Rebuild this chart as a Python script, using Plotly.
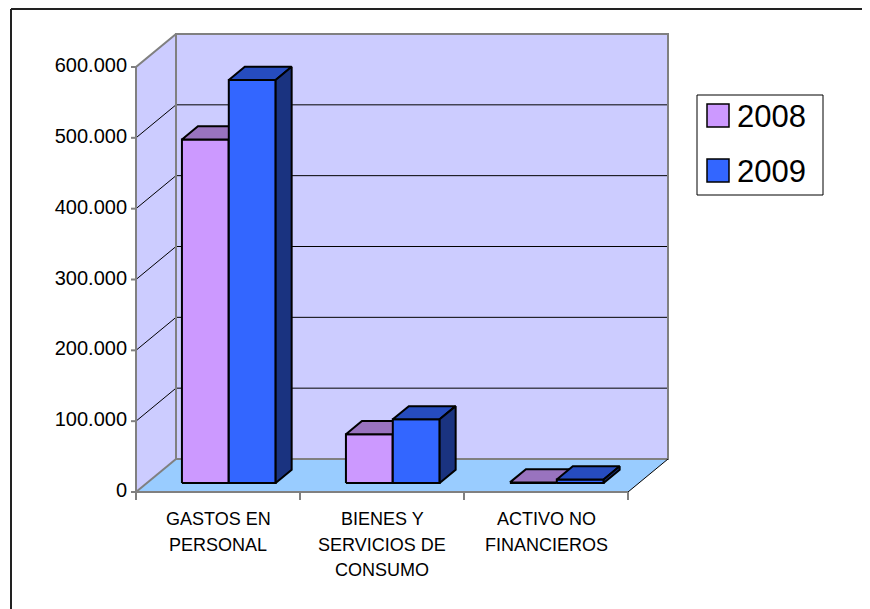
import plotly.graph_objects as go

# ---------------- data ----------------
categories = ["GASTOS EN<br>PERSONAL", "BIENES Y<br>SERVICIOS DE<br>CONSUMO", "ACTIVO NO<br>FINANCIEROS"]
series_names = ["2008", "2009"]
values_2008 = [485000, 69000, 1000]
values_2009 = [569000, 90000, 5000]
y_tick_values = [0, 100000, 200000, 300000, 400000, 500000, 600000]
y_tick_labels = ["0", "100.000", "200.000", "300.000", "400.000", "500.000", "600.000"]

# ---------------- styling / geometry ----------------
PAGE_OFF = 8                 # browser body margin
W, H = 870 - PAGE_OFF, 609 - PAGE_OFF
FONT = "Liberation Sans, Arial, sans-serif"
front_colors = ["#CC99FF", "#3366FF"]
top_colors = ["#9973BF", "#264CBF"]
side_colors = ["#9973BF", "#1A3380"]
WALL = "#CCCCFF"
FLOOR = "#99CCFF"
EDGE = "#808080"

# pixel layout (in window pixels) of the plotting box (front plane)
PX_X0, PX_X1 = 136 - PAGE_OFF, 628 - PAGE_OFF
PX_Y0, PX_YMAX = 492 - PAGE_OFF, 67 - PAGE_OFF
YMAX = 600000
n_cat = len(categories)
px_per_x = (PX_X1 - PX_X0) / n_cat
px_per_v = (PX_Y0 - PX_YMAX) / YMAX

# depth offset (oblique projection) in data units
DX = 40 / px_per_x
DY = 33 / px_per_v
F0, F1 = 0.27, 0.67          # bar depth range
BAR_W = 1 / 3.5              # gap width 150%

x_range = [(0 - PX_X0) / px_per_x, (W - PX_X0) / px_per_x]
y_range = [(PX_Y0 - H) / px_per_v, PX_Y0 / px_per_v]

fig = go.Figure()


def poly(xs, ys, fill, line_color="black", width=1.5):
    fig.add_trace(go.Scatter(
        x=list(xs) + [xs[0]], y=list(ys) + [ys[0]], mode="lines", fill="toself",
        fillcolor=fill, line=dict(color=line_color, width=width),
        hoverinfo="skip", showlegend=False))


def seg(xs, ys, color, width=1):
    fig.add_trace(go.Scatter(
        x=xs, y=ys, mode="lines", line=dict(color=color, width=width),
        hoverinfo="skip", showlegend=False))


# walls and floor
poly([DX, n_cat + DX, n_cat + DX, DX], [DY, DY, YMAX + DY, YMAX + DY], WALL, WALL, 0)
poly([0, DX, DX, 0], [0, DY, YMAX + DY, YMAX], WALL, WALL, 0)
poly([0, n_cat, n_cat + DX, DX], [0, 0, DY, DY], FLOOR, FLOOR, 0)

# gridlines
for v in y_tick_values[1:-1]:
    seg([DX, n_cat + DX], [v + DY, v + DY], "black", 1)
    seg([0, DX], [v, v + DY], "black", 1)

# wall edges
seg([DX, DX, n_cat + DX, n_cat + DX, DX], [DY, YMAX + DY, YMAX + DY, DY, DY], EDGE, 2)
seg([0, 0, DX], [0, YMAX, YMAX + DY], EDGE, 2)
seg([0, DX], [0, DY], EDGE, 2)
seg([0, n_cat], [0, 0], EDGE, 2)
seg([n_cat, n_cat + DX], [0, DY], "black", 1)

# axis ticks
tick_dx = 5 / px_per_x
for v in y_tick_values:
    seg([-tick_dx, 0], [v, v], EDGE, 2)
tick_dy = 8 / px_per_v
for i in range(n_cat + 1):
    seg([i, i], [0, -tick_dy], EDGE, 2)

# bars
for ci in range(n_cat):
    for si, vals in enumerate([values_2008, values_2009]):
        v = vals[ci]
        x0 = ci + 0.5 - BAR_W + si * BAR_W
        x1 = x0 + BAR_W
        a0, a1 = F0 * DX, F1 * DX
        b0, b1 = F0 * DY, F1 * DY
        poly([x0 + a0, x1 + a0, x1 + a0, x0 + a0], [b0, b0, v + b0, v + b0], front_colors[si], "black", 2)
        poly([x0 + a0, x1 + a0, x1 + a1, x0 + a1], [v + b0, v + b0, v + b1, v + b1], top_colors[si], "black", 2)
        poly([x1 + a0, x1 + a1, x1 + a1, x1 + a0], [b0, b1, v + b1, v + b0], side_colors[si], "black", 2)

# y tick labels
fig.add_trace(go.Scatter(
    x=[-9 / px_per_x] * len(y_tick_values), y=y_tick_values, mode="text",
    text=y_tick_labels, textposition="middle left",
    textfont=dict(family=FONT, size=20, color="black"),
    hoverinfo="skip", showlegend=False))

# category labels (one annotation per line to match line spacing)
LINE_GAP = 25.5
for i, c in enumerate(categories):
    for li, line in enumerate(c.split("<br>")):
        fig.add_annotation(x=i + 0.5, y=-(27 + li * LINE_GAP) / px_per_v, text=line, showarrow=False,
                           xanchor="center", yanchor="middle", align="center",
                           font=dict(family=FONT, size=18, color="black"))


def px2paper(px, py):
    return (px - PAGE_OFF) / W, 1 - (py - PAGE_OFF) / H


shapes = []
# outer border (left and top)
x_a, _ = px2paper(11, 9)
_, y_a = px2paper(11, 9)
shapes.append(dict(type="line", xref="paper", yref="paper", x0=x_a, y0=y_a, x1=x_a, y1=0,
                   line=dict(color="#222222", width=2)))
shapes.append(dict(type="line", xref="paper", yref="paper", x0=x_a, y0=y_a, x1=1, y1=y_a,
                   line=dict(color="#222222", width=2)))
# legend box
lx0, ly0 = px2paper(697, 95)
lx1, ly1 = px2paper(823, 195)
shapes.append(dict(type="rect", xref="paper", yref="paper", x0=lx0, y0=ly1, x1=lx1, y1=ly0,
                   line=dict(color="black", width=1), fillcolor="white", layer="above"))
for si, name in enumerate(series_names):
    top = 104 + si * 55
    sx0, sy0 = px2paper(707, top)
    sx1, sy1 = px2paper(729, top + 23)
    shapes.append(dict(type="rect", xref="paper", yref="paper", x0=sx0, y0=sy1, x1=sx1, y1=sy0,
                       line=dict(color="black", width=1.5), fillcolor=front_colors[si], layer="above"))
    tx, ty = px2paper(735, top + 12)
    fig.add_annotation(xref="paper", yref="paper", x=tx, y=ty, text=name, showarrow=False,
                       xanchor="left", yanchor="middle",
                       font=dict(family=FONT, size=31, color="black"))

fig.update_layout(
    width=W, height=H, margin=dict(l=0, r=0, t=0, b=0),
    paper_bgcolor="white", plot_bgcolor="white", showlegend=False,
    xaxis=dict(range=x_range, visible=False, fixedrange=True),
    yaxis=dict(range=y_range, visible=False, fixedrange=True),
    shapes=shapes,
)

fig.write_html("out.html")
